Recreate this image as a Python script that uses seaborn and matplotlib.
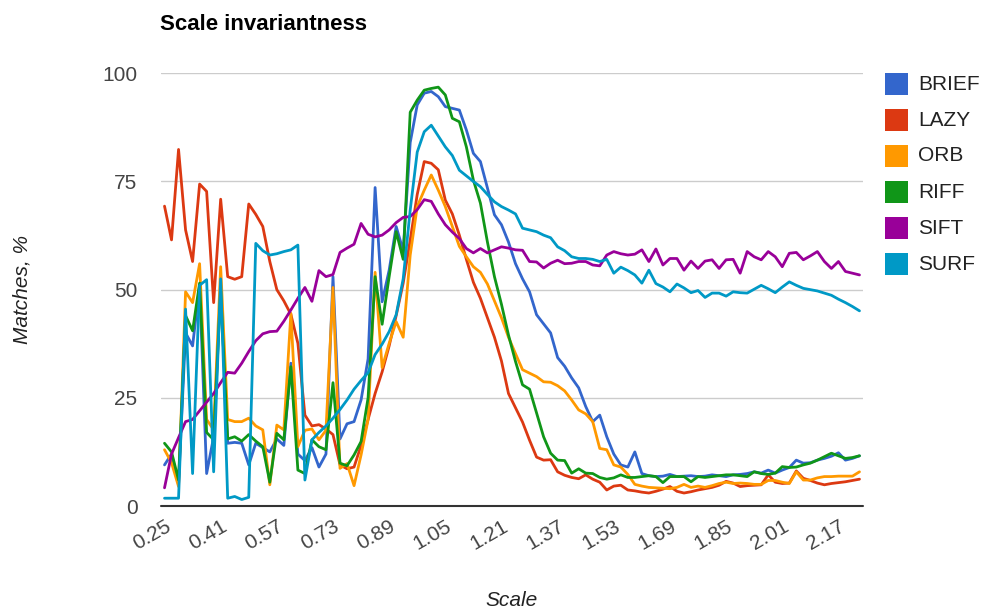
import numpy as np
import pandas as pd
import matplotlib
matplotlib.use("Agg")
import matplotlib.pyplot as plt
from matplotlib.patches import Rectangle
import seaborn as sns

# scale categories 0.25 ... 2.23
scales = np.round(0.25 + 0.02 * np.arange(100), 2)

brief = [9.5, 12, 5, 40, 37, 51, 7.5, 16, 51, 14.5,
         14.7, 14.5, 9.5, 14.5, 13.5, 12.5, 15.5, 14, 33, 12,
         10.5, 13.5, 9, 12, 53, 15.5, 19, 19.5, 24.5, 34,
         73.6, 47.2, 54.5, 64.6, 59, 84, 92.7, 95.4, 95.8, 94.6,
         92.3, 91.9, 91.5, 86.9, 81.5, 79.6, 73.5, 67.3, 65, 61,
         56, 52.5, 49.5, 44.2, 42.1, 40, 34.3, 32.3, 29.6, 27.3,
         23, 19.5, 21, 16, 12, 9.5, 9, 12.5, 7.5, 7,
         6.8, 6.9, 7.3, 6.8, 6.9, 7, 6.8, 6.9, 7.2, 7,
         6.8, 7.2, 7.3, 7.5, 7.9, 7.6, 8.3, 7.6, 8.3, 8.9,
         10.6, 9.9, 10, 10.6, 11, 11.5, 12.3, 10.6, 11, 11.6]

lazy = [69.3, 61.5, 82.4, 63.8, 56.5, 74.4, 72.7, 47, 70.9, 53,
        52.4, 53, 69.8, 67.4, 64.6, 56.5, 50, 47.4, 44.3, 37.6,
        21, 18.5, 18.8, 17.8, 16.5, 9.5, 8.6, 9, 14, 20,
        26, 31, 37, 44, 51.5, 61.5, 72, 79.6, 79.2, 77.7,
        70.7, 67.5, 62.6, 57, 51.7, 48, 43.5, 39, 33.5, 26,
        22.7, 19.4, 15.2, 11.3, 10.6, 10.7, 7.9, 7.1, 6.6, 6.3,
        7.2, 6.2, 5.5, 3.7, 4.6, 4.8, 3.7, 3.5, 3.2, 3,
        3.4, 3.9, 4.5, 3.4, 3, 3.3, 3.7, 4, 4.3, 4.8,
        5.7, 5.3, 4.5, 4.7, 4.8, 4.9, 7.2, 5.5, 5.2, 5.3,
        8.1, 6.4, 5.9, 5.3, 4.9, 5.2, 5.4, 5.6, 5.9, 6.2]

orb = [13, 10, 4.5, 49.5, 47, 56, 20, 17.6, 55.3, 20,
       19.5, 19.5, 20.3, 18.5, 17.6, 4.9, 18.7, 17.6, 44.5, 13.7,
       17.5, 17.8, 15.3, 17.5, 50.5, 8.7, 9.8, 4.7, 11.8, 20,
       54, 32, 37.6, 42.6, 39, 58, 69.2, 73, 76.5, 73,
       69.2, 64.6, 60, 57.6, 55.3, 54, 51.3, 47.4, 43.5, 39,
       35.2, 31.5, 30.7, 29.9, 28.7, 28.6, 27.8, 26.6, 24.5, 22.2,
       21.3, 19.5, 13.3, 13, 9.5, 9, 7.3, 5, 4.6, 4.3,
       4.2, 4.1, 4, 4.3, 5, 4.3, 4.6, 4.3, 4.7, 5.2,
       5.5, 5.2, 5.3, 5.2, 5, 5, 5.9, 5.9, 5.5, 5.2,
       7.9, 6, 6, 6.5, 6.8, 6.8, 6.9, 6.9, 6.9, 7.9]

riff = [14.5, 12.5, 6, 44, 40.5, 51.5, 17, 15.3, 50, 15.5,
        16, 15, 16.5, 15, 13.7, 5.5, 16.8, 15.3, 32.2, 8.3,
        7.5, 15.3, 13.7, 13, 28.5, 9.9, 9.3, 11.8, 14.9, 25,
        53, 42, 53, 63.4, 57, 91, 93.8, 96.1, 96.5, 96.8,
        95, 89.6, 88.8, 83, 75.3, 70, 61, 53, 46.6, 39.5,
        33.4, 28, 27, 21.5, 16, 12.2, 10.6, 10.5, 7.6, 8.6,
        7.6, 7.5, 6.6, 6.2, 6.5, 7.2, 6.6, 6.6, 6.8, 7,
        6.8, 5.4, 6.8, 6.8, 6.8, 5.6, 6.8, 6.6, 6.8, 7,
        7.2, 7.2, 7, 6.8, 7.9, 7.5, 7.3, 7.6, 9.1, 8.9,
        9, 9.5, 9.9, 10.6, 11.4, 12.2, 11.6, 11, 11.2, 11.6]

sift = [4.2, 12, 15.8, 19.5, 20, 22, 24, 26, 28.5, 30.9,
        30.7, 33, 35.7, 38.2, 39.8, 40.3, 40.4, 42.7, 45.3, 48,
        50.5, 47.3, 54.4, 53, 53.5, 58.6, 59.6, 60.5, 65.3, 62.8,
        62.2, 62.6, 63.8, 65.5, 66.7, 66.9, 68.5, 70.8, 70.4, 67.5,
        65, 63.3, 61.8, 59.5, 58.5, 59.5, 58.5, 59.2, 59.9, 59.6,
        59.2, 59.1, 56.5, 56.4, 55, 56.1, 56.8, 56, 56.1, 56.5,
        56.5, 55.7, 55.5, 58, 58.8, 58.3, 58, 58.2, 59.2, 56.5,
        59.4, 55.7, 57.2, 57.2, 54.5, 56.6, 54.9, 56.6, 56.9, 54.9,
        56.9, 57, 53.8, 58.8, 57.6, 56.9, 58.8, 57.6, 55.3, 58.4,
        58.6, 56.9, 57.8, 58.8, 56.5, 54.9, 56.5, 54.2, 53.8, 53.4]

surf = [1.8, 1.8, 1.8, 45.5, 7.5, 51, 52.3, 7.9, 52.5, 1.8,
        2.2, 1.5, 2, 60.7, 59, 58, 58.3, 58.8, 59.2, 60.3,
        6, 15.3, 17, 18.5, 20.3, 22.3, 24.5, 27, 29, 30.8,
        35, 37.4, 40.3, 44.2, 52.5, 68.4, 81.8, 86.5, 88, 85.5,
        83, 81, 77.6, 76.3, 75, 73.8, 72, 70.3, 69.2, 68.4,
        67.5, 64.2, 63.8, 63.4, 62.6, 62, 59.9, 59, 57.6, 57.2,
        57.2, 57, 56.5, 57, 53.8, 55.2, 54.4, 53.4, 51.5, 54.5,
        51.4, 50.6, 49.5, 51.3, 50.4, 49.3, 49.8, 48.2, 49.2, 49.2,
        48.5, 49.5, 49.3, 49.2, 50.1, 51, 50.2, 49.3, 50.6, 51.8,
        51, 50.3, 50, 49.7, 49.2, 48.7, 47.8, 47, 46.1, 45.1]

methods = ["BRIEF", "LAZY", "ORB", "RIFF", "SIFT", "SURF"]
series = [brief, lazy, orb, riff, sift, surf]
colors = {"BRIEF": "#3366cc", "LAZY": "#dc3912", "ORB": "#ff9900",
          "RIFF": "#109618", "SIFT": "#990099", "SURF": "#0099c6"}

df = pd.DataFrame({
    "Scale": np.tile(scales, len(methods)),
    "Matches": np.concatenate([np.array(s, dtype=float) for s in series]),
    "Method": np.repeat(methods, len(scales)),
})

sns.set_style("white")
plt.rcParams["font.family"] = ["Liberation Sans", "DejaVu Sans"]

W, H = 984, 611
fig = plt.figure(figsize=(W / 100, H / 100), dpi=100)
ax = fig.add_axes([161 / W, 105 / H, 702 / W, 432.7 / H])

sns.lineplot(data=df, x="Scale", y="Matches", hue="Method", hue_order=methods,
             palette=colors, linewidth=2, ax=ax, legend=False)

ax.set_xlim(0.24, 2.24)
ax.set_ylim(0, 100)
ax.set_yticks([0, 25, 50, 75, 100])
ax.yaxis.grid(True, color="#cccccc", linewidth=1)
ax.xaxis.grid(False)
ax.set_axisbelow(True)
for sp in ax.spines.values():
    sp.set_visible(False)
ax.axhline(0, color="#333333", linewidth=1.5, clip_on=False, zorder=1)

ax.set_xticks(scales[::8])
ax.set_xticklabels([f"{s:.2f}" for s in scales[::8]], rotation=30,
                   ha="right", rotation_mode="anchor")
ax.tick_params(axis="both", length=0, labelsize=15, colors="#444444")
ax.tick_params(axis="y", pad=17)
ax.tick_params(axis="x", pad=8)
ax.set_xlabel("")
ax.set_ylabel("")

fig.text(160 / W, 1 - 25 / H, "Scale invariantness", fontsize=16,
         fontweight="bold", ha="left", va="center", color="#000000")
fig.text(22 / W, 1 - 290 / H, "Matches, %", rotation=90, fontsize=15,
         style="italic", ha="center", va="center", color="#222222")
fig.text(512 / W, 1 - 600 / H, "Scale", fontsize=15, style="italic",
         ha="center", va="center", color="#222222")

# legend on the right
for k, m in enumerate(methods):
    yc = 84 + 36 * k
    fig.patches.append(Rectangle((885 / W, 1 - (yc + 11) / H), 23 / W, 22 / H,
                                 transform=fig.transFigure, facecolor=colors[m],
                                 edgecolor="none"))
    fig.text(918 / W, 1 - yc / H, m, fontsize=15, ha="left", va="center",
             color="#222222")

fig.savefig("out.png", dpi=100)
